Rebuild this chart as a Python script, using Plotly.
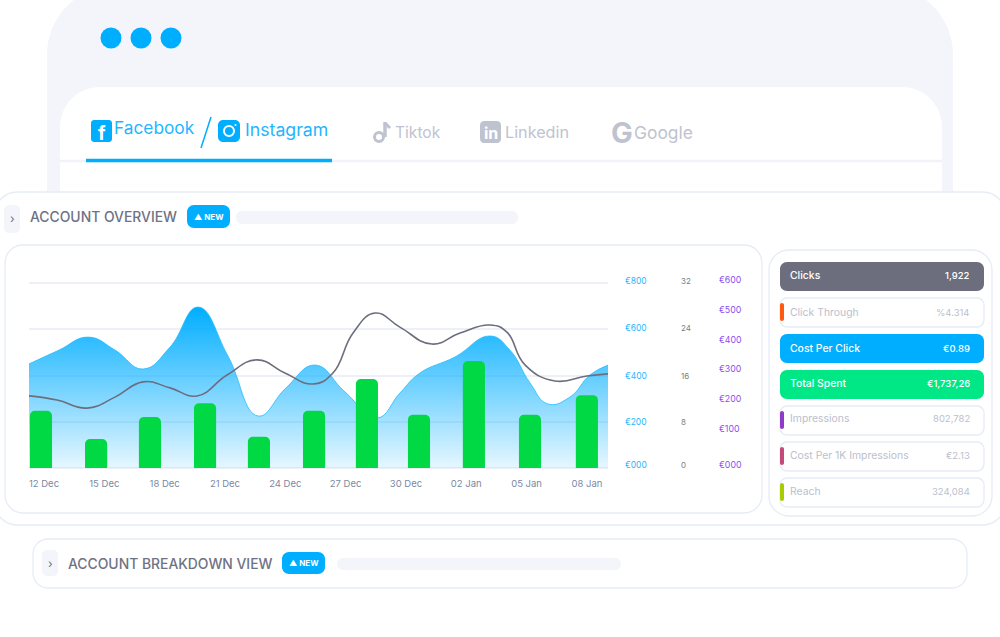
import plotly.graph_objects as go

W, H = 1000, 637
FONT = "Inter"

# chart values (x is days since 12 Dec)
date_days = [0, 3, 6, 9, 12, 15, 18, 21, 24, 27]
date_labels = ["12 Dec", "15 Dec", "18 Dec", "21 Dec", "24 Dec", "27 Dec", "30 Dec", "02 Jan", "05 Jan", "08 Jan"]

area_days = [-0.75, 0.75, 2.19, 3.53, 4.92, 6.27, 7.66, 9.15, 10.64, 12.03, 13.48, 14.97, 16.56, 17.7,
             18.7, 20.44, 22.18, 23.17, 24.17, 25.06, 26.16, 27.15, 28.05]
area_values = [450, 510, 566, 510, 428, 523, 696, 484, 225, 346, 445, 329, 216, 324,
               411, 480, 571, 510, 368, 277, 307, 402, 445]

line_days = [-0.75, 0.65, 2.14, 3.53, 4.92, 6.27, 7.61, 9.1, 10.59, 11.98, 13.38, 14.37, 15.37, 16.46,
             17.7, 19.29, 20.69, 22.18, 23.02, 23.92, 25.41, 27.0, 28.05]
line_values = [211, 197, 170, 207, 258, 238, 211, 281, 332, 288, 251, 288, 422, 489,
               442, 385, 422, 449, 425, 315, 261, 278, 285]

bar_days = [-0.15, 2.59, 5.27, 8.01, 10.69, 13.43, 16.06, 18.65, 21.38, 24.17, 27.0]
bar_values = [9.9, 5.0, 8.8, 11.2, 5.4, 9.9, 15.4, 9.2, 18.5, 9.2, 12.6]

grid_vals = [0, 200, 400, 600, 800]
blue_vals = [13, 199, 398, 605, 809]
blue_text = ["€000", "€200", "€400", "€600", "€800"]
mid_vals = [0.5, 8, 15.9, 24.2, 32.35]
mid_text = ["0", "8", "16", "24", "32"]
purple_vals = [-21, 100, 200, 300, 400, 500, 600]
purple_text = ["€000", "€100", "€200", "€300", "€400", "€500", "€600"]

row_names = ["Clicks", "Click Through", "Cost Per Click", "Total Spent", "Impressions", "Cost Per 1K Impressions", "Reach"]
row_values = ["1,922", "%4.314", "€0.89", "€1,737,26", "802,782", "€2.13", "324,084"]
row_fills = ["#6C6E7D", "white", "#00AEFF", "#00E785", "white", "white", "white"]
row_marks = [None, "#FF5A10", None, None, "#8E3BC8", "#C44A7A", "#A8CC00"]
row_tops = [262, 298, 334, 370, 406, 442, 478]
row_text_y = [276, 312, 348, 384, 418, 455, 491]

BORDER = "#E6EBF6"
PALE = "#F3F5FA"
BLUE = "#00AEFF"
GREY_TAB = "#BFC3D0"
K = 0.5523
SMOOTH = 1.3


def px(x):
    return x / W


def py(y):
    return 1 - y / H


def rrect(x0, y0, x1, y1, r, fill="white", line=None, width=1.3):
    c = r * (1 - K)
    path = (f"M {px(x0 + r)} {py(y0)} L {px(x1 - r)} {py(y0)} "
            f"C {px(x1 - c)} {py(y0)} {px(x1)} {py(y0 + c)} {px(x1)} {py(y0 + r)} "
            f"L {px(x1)} {py(y1 - r)} C {px(x1)} {py(y1 - c)} {px(x1 - c)} {py(y1)} {px(x1 - r)} {py(y1)} "
            f"L {px(x0 + r)} {py(y1)} C {px(x0 + c)} {py(y1)} {px(x0)} {py(y1 - c)} {px(x0)} {py(y1 - r)} "
            f"L {px(x0)} {py(y0 + r)} C {px(x0)} {py(y0 + c)} {px(x0 + c)} {py(y0)} {px(x0 + r)} {py(y0)} Z")
    return dict(type="path", xref="paper", yref="paper", path=path, fillcolor=fill,
                line=dict(color=line or fill, width=width if line else 0), layer="below")


def circle(cx, cy, r, fill=BLUE, line=None, width=0):
    return dict(type="circle", xref="paper", yref="paper", x0=px(cx - r), x1=px(cx + r), y0=py(cy + r), y1=py(cy - r),
                fillcolor=fill, line=dict(color=line or fill, width=width), layer="below")


def seg(x0, y0, x1, y1, color, width):
    return dict(type="line", xref="paper", yref="paper", x0=px(x0), x1=px(x1), y0=py(y0), y1=py(y1),
                line=dict(color=color, width=width), layer="below")


def label(x, y, text, size, color, anchor="left", weight=400):
    return dict(xref="paper", yref="paper", x=px(x), y=py(y), text=text, showarrow=False, xanchor=anchor,
                yanchor="middle", font=dict(size=size, color=color, family=FONT, weight=weight))


shapes = [
    rrect(47, -15, 953, 539, 70, fill=PALE),
    rrect(60, 87, 942, 560, 40, fill="white"),
    seg(60, 161, 942, 161, "#F1F3F9", 2.5),
    seg(86, 160.5, 332, 160.5, BLUE, 3.5),
    circle(111, 38, 10.5), circle(141, 38, 10.5), circle(171, 38, 10.5),
    rrect(91, 120, 112, 142, 3, fill=BLUE),
    rrect(218, 120, 240, 142, 5, fill=BLUE),
    circle(229, 131, 5, fill="rgba(0,0,0,0)", line="white", width=2),
    circle(235.5, 125, 1, fill="white"),
    seg(211, 117, 201, 148, BLUE, 1.5),
    circle(379, 137, 4.5, fill="rgba(0,0,0,0)", line=GREY_TAB, width=3),
    seg(385, 122, 385, 137, GREY_TAB, 3.5),
    seg(385, 123, 390, 128, GREY_TAB, 3),
    rrect(480, 121, 501, 143, 4, fill=GREY_TAB),
    rrect(-5, 192, 1005, 525, 22, fill="white", line=BORDER),
    rrect(33, 539, 967, 588, 15, fill="white", line=BORDER),
    rrect(5, 245, 762, 513, 18, fill="white", line=BORDER),
    rrect(769, 250, 992, 516, 20, fill="white", line=BORDER),
    rrect(4, 205, 20, 233, 5, fill=PALE),
    rrect(42, 550, 58, 576, 5, fill=PALE),
    rrect(187, 205, 230, 228, 7, fill=BLUE),
    rrect(282, 552, 325, 574, 7, fill=BLUE),
    rrect(236, 211, 518, 224, 6, fill=PALE),
    rrect(337, 558, 621, 570, 6, fill=PALE),
]

annotations = [
    label(112, 128, "Facebook", 17.3, "#1FB6FF"),
    label(243, 129, "Instagram", 17.7, "#1FB6FF"),
    label(393, 132, "Tiktok", 15.6, GREY_TAB),
    label(503, 132, "Linkedin", 16.2, GREY_TAB),
    label(632, 132, "Google", 17.4, GREY_TAB),
    label(101.5, 133, "<b>f</b>", 19, "white", "center"),
    label(490.5, 133, "<b>in</b>", 16, "white", "center"),
    label(621.5, 132, "<b>G</b>", 29, GREY_TAB, "center"),
    label(28, 217, "ACCOUNT OVERVIEW", 13.9, "#6F7284", weight=500),
    label(66, 564, "ACCOUNT BREAKDOWN VIEW", 13.9, "#6F7284", weight=500),
    label(12, 219, "›", 12, "#6F7284", "center"),
    label(50, 563, "›", 12, "#6F7284", "center"),
    label(208.5, 217, "<b>▲ NEW</b>", 8, "white", "center"),
    label(303.5, 563, "<b>▲ NEW</b>", 8, "white", "center"),
]

for top, text_y, name, value, fill, mark in zip(row_tops, row_text_y, row_names, row_values, row_fills, row_marks):
    solid = fill != "white"
    shapes.append(rrect(780, top, 984, top + 29, 7, fill=fill, line=None if solid else BORDER))
    if mark:
        shapes.append(rrect(780, top + 5, 784, top + 23, 2, fill=mark))
    color = "white" if solid else "#BCC0CC"
    weight = 500 if solid else 400
    annotations.append(label(788, text_y, name, 10.4, color, weight=weight))
    annotations.append(label(972, text_y, value, 9.5, color, "right", weight=weight))

fig = go.Figure()
fig.add_trace(go.Scatter(x=area_days, y=area_values, mode="lines", fill="tozeroy",
                         line=dict(shape="spline", smoothing=SMOOTH, width=0),
                         fillgradient=dict(type="vertical", colorscale=[[0, "rgba(0,174,255,0.1)"], [1, "rgba(0,174,255,1)"]]),
                         hoverinfo="skip", yaxis="y"))
# same curve again as the thin edge of the area, this also brings up the blue axis
fig.add_trace(go.Scatter(x=area_days, y=area_values, mode="lines",
                         line=dict(shape="spline", smoothing=SMOOTH, width=0.8, color="#25BCFF"),
                         hoverinfo="skip", yaxis="y2"))
fig.add_trace(go.Bar(x=bar_days, y=bar_values, width=1.1, marker=dict(color="#00D944", line=dict(width=0)),
                     hoverinfo="skip", yaxis="y3"))
fig.add_trace(go.Scatter(x=line_days, y=line_values, mode="lines",
                         line=dict(shape="spline", smoothing=SMOOTH, width=1.6, color="#6C6E7D"),
                         hoverinfo="skip", yaxis="y4"))

domain = [py(470), py(276)]
fig.update_layout(
    width=W, height=H, margin=dict(l=0, r=0, t=0, b=0, autoexpand=False), autosize=False,
    paper_bgcolor="white", plot_bgcolor="rgba(0,0,0,0)", showlegend=False, barcornerradius=5,
    font=dict(family=FONT),
    shapes=shapes, annotations=annotations,
    xaxis=dict(domain=[px(29), px(608)], range=[-0.746, 28.05], tickvals=date_days, ticktext=date_labels,
               showgrid=False, zeroline=False, showline=False, ticks="", ticklabelstandoff=6,
               tickfont=dict(size=9.5, color="#7C88A2")),
    yaxis=dict(domain=domain, range=[-8.6, 830.3], tickvals=grid_vals, showticklabels=False, ticks="",
               showgrid=True, gridcolor="#EEF0F7", gridwidth=2, zeroline=False),
    yaxis2=dict(overlaying="y", side="right", anchor="free", position=px(624), range=[-8.6, 830.3],
                tickvals=blue_vals, ticktext=blue_text, showgrid=False, zeroline=False, ticks="",
                tickfont=dict(size=8.5, color="#29B6FF")),
    yaxis3=dict(overlaying="y", side="right", anchor="free", position=px(680), range=[-0.346, 33.2],
                tickvals=mid_vals, ticktext=mid_text, showgrid=False, zeroline=False, ticks="",
                tickfont=dict(size=8, color="#808080")),
    yaxis4=dict(overlaying="y", side="right", anchor="free", position=px(718), range=[-37.6, 613.4],
                tickvals=purple_vals, ticktext=purple_text, showgrid=False, zeroline=False, ticks="",
                tickfont=dict(size=8.8, color="#8A4FF0")),
)

fig.write_html("out.html", config=dict(displayModeBar=False), post_script="document.body.style.margin='0';")
